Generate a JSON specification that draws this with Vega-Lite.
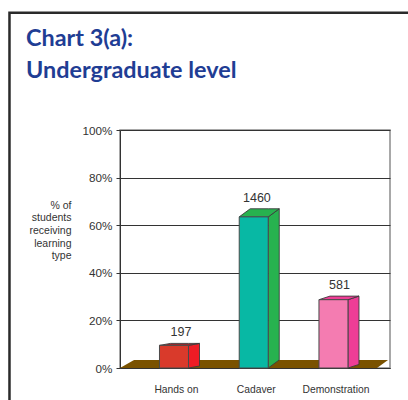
{
"$schema":"https://vega.github.io/schema/vega-lite/v6.json",
"width":270,"height":238,
"autosize":"none",
"padding":{"left":120,"top":130,"right":18,"bottom":32},
"background":"white",
"view":{"stroke":"#8c8c8c","strokeWidth":1.5},
"title":{"text":["Chart 3(a):","Undergraduate level"],"anchor":"start","frame":"group","dx":-94,"dy":80,"fontSize":23.4,"lineHeight":32,"font":"Lato","fontWeight":"bold","color":"#1f3d94"},
"datasets":{
"bars":[
{"type":"Hands on","pos":1,"pct":9.5,"n":197,"label_pos":1.088,"label_pct":13.4},
{"type":"Cadaver","pos":2,"pct":63.5,"n":1460,"label_pos":2.04,"label_pct":69.7},
{"type":"Demonstration","pos":3,"pct":28.7,"n":581,"label_pos":3.075,"label_pct":33.2}
],
"faces":[
{"face":"Hands on side","x":1.182,"low":0,"high":9.5},
{"face":"Hands on side","x":1.32,"low":0.84,"high":10.34},
{"face":"Hands on top","x":0.818,"low":9.5,"high":9.5},
{"face":"Hands on top","x":0.956,"low":9.5,"high":10.34},
{"face":"Hands on top","x":1.182,"low":9.5,"high":10.34},
{"face":"Hands on top","x":1.32,"low":10.34,"high":10.34},
{"face":"Cadaver side","x":2.182,"low":0,"high":63.5},
{"face":"Cadaver side","x":2.32,"low":3.4,"high":66.9},
{"face":"Cadaver top","x":1.818,"low":63.5,"high":63.5},
{"face":"Cadaver top","x":1.956,"low":63.5,"high":66.9},
{"face":"Cadaver top","x":2.182,"low":63.5,"high":66.9},
{"face":"Cadaver top","x":2.32,"low":66.9,"high":66.9},
{"face":"Demonstration side","x":3.182,"low":0,"high":28.7},
{"face":"Demonstration side","x":3.32,"low":1.5,"high":30.2},
{"face":"Demonstration top","x":2.818,"low":28.7,"high":28.7},
{"face":"Demonstration top","x":2.956,"low":28.7,"high":30.2},
{"face":"Demonstration top","x":3.182,"low":28.7,"high":30.2},
{"face":"Demonstration top","x":3.32,"low":30.2,"high":30.2}
],
"floor":[
{"x":0.323,"low":0,"high":0},
{"x":0.499,"low":0,"high":3.4},
{"x":3.546,"low":0,"high":3.4},
{"x":3.684,"low":3.4,"high":3.4}
],
"frame":[
{"x":-1.063,"y":-20,"o":1},
{"x":-1.063,"y":149.3,"o":2},
{"x":4.5,"y":149.3,"o":3}
]
},
"layer":[
{"data":{"name":"frame"},"mark":{"type":"line","color":"#2a2a2a","strokeWidth":2.5,"clip":false},
 "encoding":{
  "x":{"field":"x","type":"quantitative","scale":{"domain":[0.323,3.709],"nice":false,"zero":false,"padding":0},
   "axis":{"values":[1,2,3],"title":null,"grid":false,"ticks":false,"domain":true,"domainColor":"#333333","labelPadding":16,"labelOffset":2,"labelFontSize":10.3,"labelFont":"Liberation Sans","labelColor":"#333333","labelAngle":0,
    "labelExpr":"datum.value==1?'Hands on':datum.value==2?'Cadaver':'Demonstration'"}},
  "y":{"field":"y","type":"quantitative","scale":{"domain":[0,100],"nice":false,"zero":false},
   "axis":{"values":[0,20,40,60,80,100],"format":".0f","labelExpr":"datum.value+'%'","grid":true,"gridColor":"#333333","gridWidth":1,"gridOpacity":1,"tickColor":"#333333","tickSize":4,"domainColor":"#333333","labelFontSize":11.7,"labelFont":"Liberation Sans","labelColor":"#333333","labelPadding":4,
    "title":["% of","students","receiving","learning","type"],"titleAngle":0,"titleAlign":"right","titleBaseline":"alphabetic","titleX":-49,"titleY":78,"titleFontSize":10.5,"titleFont":"Liberation Sans","titleFontWeight":"normal","titleColor":"#333333","titleLineHeight":12.7}},
  "order":{"field":"o"}
 }},
{"data":{"name":"floor"},"mark":{"type":"area","color":"#7a5200"},
 "encoding":{"x":{"field":"x","type":"quantitative"},"y":{"field":"high","type":"quantitative"},"y2":{"field":"low"}}},
{"data":{"name":"faces"},"mark":{"type":"area","stroke":"#3c3c3c","strokeWidth":0.9},
 "encoding":{"x":{"field":"x","type":"quantitative"},"y":{"field":"high","type":"quantitative"},"y2":{"field":"low"},
  "fill":{"field":"face","type":"nominal","legend":null,"scale":{
   "domain":["Hands on side","Hands on top","Cadaver side","Cadaver top","Demonstration side","Demonstration top"],
   "range":["#ee1c25","#a8262a","#27b24f","#27b24f","#ee3d96","#ee3d96"]}}}},
{"data":{"name":"bars"},"mark":{"type":"bar","size":29,"stroke":"#4a4a4a","strokeWidth":1},
 "encoding":{"x":{"field":"pos","type":"quantitative"},"y":{"field":"pct","type":"quantitative"},
  "fill":{"field":"type","type":"nominal","legend":null,"scale":{"domain":["Hands on","Cadaver","Demonstration"],"range":["#d93a2b","#08b8a4","#f47cb1"]}}}},
{"data":{"name":"bars"},"mark":{"type":"text","font":"Liberation Sans","fontSize":12.5,"color":"#333333","baseline":"alphabetic","align":"center"},
 "encoding":{"x":{"field":"label_pos","type":"quantitative"},"y":{"field":"label_pct","type":"quantitative"},"text":{"field":"n","type":"quantitative"}}}
],
"resolve":{"scale":{"fill":"independent"}}
}
